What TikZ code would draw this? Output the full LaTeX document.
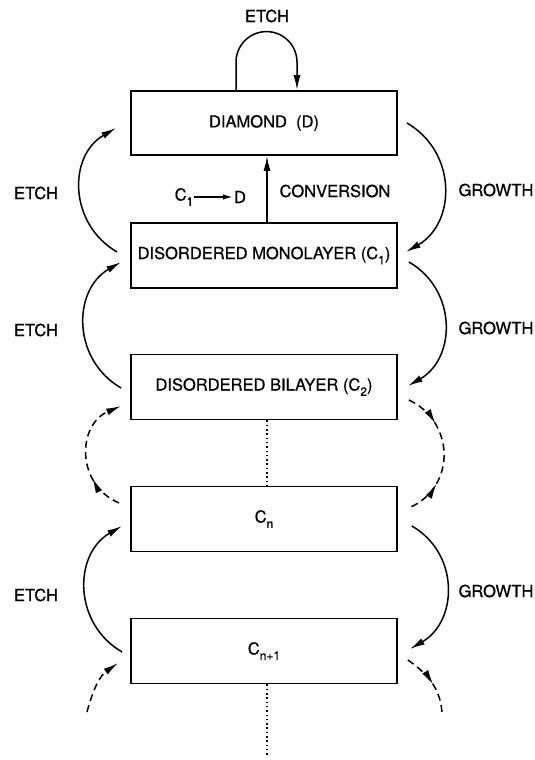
\documentclass[tikz,border=0pt]{standalone}
\usepackage{fontspec}
\setmainfont{TeX Gyre Heros}[FakeBold=0.6]
\usetikzlibrary{arrows.meta,calc,decorations.markings}
\newcommand\subs[1]{\raisebox{-0.32em}{\fontsize{12}{12}\selectfont #1}}
\begin{document}
\begin{tikzpicture}[x=1pt,y=1pt,
  every node/.style={font=\fontsize{16.5}{19}\selectfont},
  box/.style={draw, line width=1.8pt, minimum width=266pt, minimum height=65pt, inner sep=0pt},
  tip/.style={-{Latex[length=15pt,width=7pt]}},
  arcline/.style={line width=1.5pt},
  dsh/.style={arcline, dash pattern=on 7pt off 4.5pt},
  dots/.style={line width=1.6pt, dash pattern=on 1.5pt off 2.8pt},
  lcurve/.style={out=150, in=210, looseness=1.15},
  rcurve/.style={out=-30, in=30, looseness=1.15},
  fwdmark/.style={postaction={decorate, decoration={markings,
     mark=at position #1 with {\arrow{Latex[length=15pt,width=7pt]}}}}},
  revmark/.style={postaction={decorate, decoration={markings,
     mark=at position #1 with {\arrowreversed{Latex[length=15pt,width=7pt]}}}}}
]
\useasboundingbox (0,0) rectangle (535,-760);

% boxes
\node[box, minimum height=64pt] (d) at (264,-123) {DIAMOND\ \ (D)};
\node[box] (c1) at (264,-255.5) {DISORDERED MONOLAYER (C\subs{1})};
\node[box] (c2) at (264,-387) {DISORDERED BILAYER (C\subs{2})};
\node[box] (cn) at (264,-519) {C\subs{n}};
\node[box] (cn1) at (264,-651) {C\subs{n+1}};

% labels
\node (etop) at (267,-16) {ETCH};
\node (e1) at (36,-193) {ETCH};
\node (e2) at (36,-330) {ETCH};
\node (e3) at (36,-595) {ETCH};
\node (g1) at (496,-190) {GROWTH};
\node (g2) at (496,-328) {GROWTH};
\node (g3) at (496,-591) {GROWTH};
\node (conv) at (335,-191) {CONVERSION};
\node[inner sep=1pt] (clab) at (184,-197) {C\subs{1}};
\node[inner sep=1pt] (dlab) at (240,-197) {D};
\draw[line width=1.5pt, -{Latex[length=10pt,width=5.5pt]}] (clab) -- (dlab);

% self loop (etch of diamond)
\coordinate (sl1) at ($(d.north)+(-28,0)$);
\coordinate (sl2) at ($(d.north)+(33,0)$);
\draw[arcline,tip] (sl1) -- ++(0,28) arc[start angle=180,end angle=0,radius=30.5] -- (sl2);

% conversion
\draw[arcline,tip] ($(c1.north)+(3,0)$) -- ($(d.south)+(3,0)$);

% dotted continuation
\coordinate (bot) at (267,-757);
\draw[dots] ($(c2.south)+(3,0)$) -- ($(cn.north)+(3,0)$);
\draw[dots] ($(cn1.south)+(3,0)$) -- (bot);

% left (etch) arcs
\draw[arcline,tip] ($(c1.west)+(-13,3.5)$) to[lcurve] ($(d.west)+(-14,-5)$);
\draw[arcline,tip] ($(c2.west)+(-9,-1)$) to[lcurve] ($(c1.west)+(-9,-6.5)$);
\draw[dsh,tip,fwdmark=0.3] ($(cn.west)+(-11,16)$) to[out=157,in=203,looseness=1.25] ($(c2.west)+(-9,-19)$);
\draw[arcline,tip] ($(cn1.west)+(-8,-1)$) to[lcurve] ($(cn.west)+(-8,-7)$);
\coordinate (lb) at (87,-712);
\draw[dsh,tip] (lb) to[out=75,in=215] ($(cn1.west)+(-12,-12)$);

% right (growth) arcs
\draw[arcline,tip] ($(d.east)+(9,0)$) to[rcurve] ($(c1.east)+(8,3.5)$);
\draw[arcline,tip] ($(c1.east)+(11,-6.5)$) to[rcurve] ($(c2.east)+(10,1)$);
\draw[dsh,fwdmark=0.27,revmark=0.74] ($(c2.east)+(11,-13)$) to[out=-25,in=25,looseness=1.2] ($(cn.east)+(13,12)$);
\draw[arcline,tip] ($(cn.east)+(14,-7)$) to[rcurve] ($(cn1.east)+(12,2)$);
\coordinate (rb) at (442,-712);
\draw[dsh,fwdmark=0.55] ($(cn1.east)+(10,-9)$) to[out=-35,in=95] (rb);
\end{tikzpicture}
\end{document}
